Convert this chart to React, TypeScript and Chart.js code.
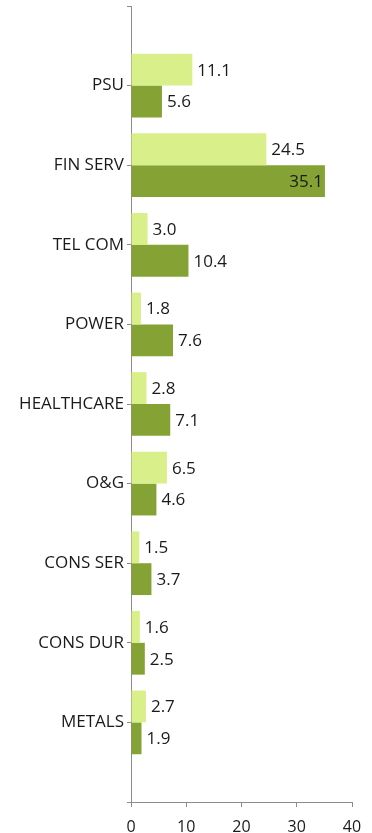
import React, { useEffect, useRef } from "react";
import { Chart, registerables } from "chart.js";

Chart.register(...registerables);

// Sector labels, padded with a blank slot at each end so the axis keeps
// half a band of space above the first and below the last sector.
const sectors = ["PSU", "FIN SERV", "TEL COM", "POWER", "HEALTHCARE", "O&G", "CONS SER", "CONS DUR", "METALS"];
const seriesA = [11.1, 24.5, 3.0, 1.8, 2.8, 6.5, 1.5, 1.6, 2.7];
const seriesB = [5.6, 35.1, 10.4, 7.6, 7.1, 4.6, 3.7, 2.5, 1.9];
const xTicks = [0, 10, 20, 30, 40];

const LIGHT = "#d8ef8a";
const DARK = "#85a335";
const AXIS = "#8c8c8c";
const TEXT = "#1a1a1a";
const FONT = "'Open Sans', Lato, sans-serif";

const pad = (arr: (number | string)[], blank: any) => [blank, ...arr, blank];

const valueLabels = {
  id: "valueLabels",
  afterDatasetsDraw(chart: any) {
    const { ctx, chartArea } = chart;
    ctx.save();
    ctx.font = `17px ${FONT}`;
    ctx.fillStyle = TEXT;
    ctx.textBaseline = "middle";
    chart.data.datasets.forEach((ds: any, di: number) => {
      const meta = chart.getDatasetMeta(di);
      meta.data.forEach((bar: any, i: number) => {
        const v = ds.data[i];
        if (v == null) return;
        const text = v.toFixed(1);
        const w = ctx.measureText(text).width;
        if (bar.x + 5 + w > chartArea.right) {
          ctx.textAlign = "right";
          ctx.fillText(text, bar.x - 2, bar.y + 1);
        } else {
          ctx.textAlign = "left";
          ctx.fillText(text, bar.x + 5, bar.y + 1);
        }
      });
    });
    ctx.restore();
  },
};

export default function App() {
  const ref = useRef<HTMLCanvasElement>(null);

  useEffect(() => {
    document.body.style.margin = "0";
    const chart = new Chart(ref.current!, {
      type: "bar",
      data: {
        labels: pad(sectors, "") as string[],
        datasets: [
          { data: pad(seriesA, null) as any, backgroundColor: LIGHT },
          { data: pad(seriesB, null) as any, backgroundColor: DARK },
        ],
      },
      options: {
        indexAxis: "y",
        animation: false,
        responsive: false,
        maintainAspectRatio: false,
        layout: { padding: { top: 6, right: 20, left: 0, bottom: 0 } },
        datasets: { bar: { categoryPercentage: 0.8, barPercentage: 1 } },
        plugins: { legend: { display: false }, tooltip: { enabled: false } },
        scales: {
          x: {
            min: 0,
            max: 40,
            afterBuildTicks: (s: any) => {
              s.ticks = xTicks.map((v) => ({ value: v }));
            },
            afterFit: (s: any) => {
              s.height = 31;
              s.paddingLeft = 0;
              s.paddingRight = 0;
            },
            border: { display: true, color: AXIS, width: 1 },
            grid: { drawOnChartArea: false, drawTicks: true, tickLength: 5, color: AXIS },
            ticks: { font: { family: FONT, size: 16 }, color: TEXT, padding: 11, maxRotation: 0 },
          },
          y: {
            type: "category",
            offset: false,
            afterFit: (s: any) => {
              s.width = 131;
              s.paddingTop = 0;
              s.paddingBottom = 0;
            },
            border: { display: true, color: AXIS, width: 1 },
            grid: { drawOnChartArea: false, drawTicks: true, tickLength: 4, color: AXIS, offset: false },
            ticks: { font: { family: FONT, size: 17 }, color: TEXT, padding: 3, autoSkip: false },
          },
        },
      },
      plugins: [valueLabels],
    });
    return () => chart.destroy();
  }, []);

  return <canvas ref={ref} width={372} height={833} style={{ display: "block" }} />;
}
